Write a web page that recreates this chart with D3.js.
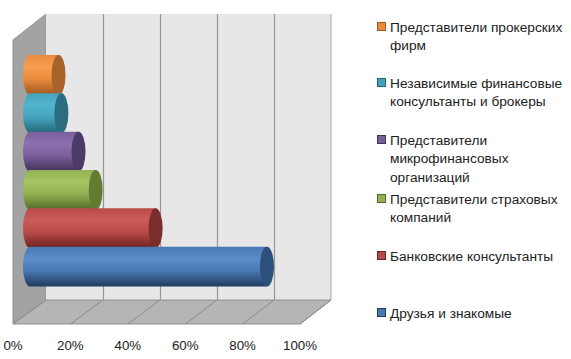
<!DOCTYPE html>
<html><head><meta charset="utf-8">
<script src="https://cdn.jsdelivr.net/npm/d3@7"></script>
<style>body{margin:0;background:#fff}svg{display:block}</style>
</head><body>
<svg id="c" width="571" height="359"></svg>
<script>
const categories = ["Друзья и знакомые","Банковские консультанты","Представители страховых компаний","Представители микрофинансовых организаций","Независимые финансовые консультанты и брокеры","Представители прокерских фирм"];
const values = [0.83, 0.44, 0.23, 0.17, 0.11, 0.10];
const tickValues = [0, 0.2, 0.4, 0.6, 0.8, 1.0];
const tickLabels = ["0%","20%","40%","60%","80%","100%"];
const legendLines = [["Представители прокерских","фирм"],["Независимые финансовые","консультанты и брокеры"],["Представители","микрофинансовых","организаций"],["Представители страховых","компаний"],["Банковские консультанты"],["Друзья и знакомые"]];
const colors = [
 {hi:"#5b8dc9",mid:"#4a78b2",lo:"#1f3b60",cap:"#2d4f7c"},
 {hi:"#cc5c59",mid:"#b84a47",lo:"#6a2220",cap:"#7b2d2b"},
 {hi:"#a6c562",mid:"#93b153",lo:"#536a28",cap:"#627c31"},
 {hi:"#8d70b0",mid:"#7a5f9b",lo:"#43305a",cap:"#4d3a69"},
 {hi:"#52b5cf",mid:"#45a2bb",lo:"#23667a",cap:"#2b6d80"},
 {hi:"#f89e50",mid:"#ea8b3e",lo:"#a0581c",cap:"#a9622a"}
];

const svg = d3.select("#c");
const xFront = d3.scaleLinear().domain([0,1]).range([13,300]);
const xBack = d3.scaleLinear().domain([0,1]).range([46,331]);
const xMid = d3.scaleLinear().domain([0,1]).range([30,315.5]);
const yBack = {top:14, bottom:300};
const yFront = {top:40, bottom:324};

const line = d3.line();
svg.append("path").attr("d", line([[xFront(0),yFront.top],[xBack(0),yBack.top],[xBack(0),yBack.bottom],[xFront(0),yFront.bottom]])+"Z")
  .attr("fill","#a3a3a3").attr("stroke","#8f8f8f").attr("stroke-width",1);
svg.append("path").attr("d", line([[xFront(0),yFront.bottom],[xBack(0),yBack.bottom],[xBack(1),yBack.bottom],[xFront(1),yFront.bottom]])+"Z")
  .attr("fill","#b5b5b5").attr("stroke","#8f8f8f").attr("stroke-width",1);
svg.append("rect").attr("x",xBack(0)).attr("y",yBack.top).attr("width",xBack(1)-xBack(0)).attr("height",yBack.bottom-yBack.top)
  .attr("fill","#e7e7e7");
svg.append("line").attr("x1",xBack(1)).attr("x2",xBack(1)).attr("y1",yBack.top).attr("y2",yBack.bottom).attr("stroke","#a6a6a6");

tickValues.forEach(t=>{
  if(t>0 && t<1) svg.append("line").attr("x1",xBack(t)+0.5).attr("x2",xBack(t)+0.5).attr("y1",yBack.top).attr("y2",yBack.bottom)
    .attr("stroke","#969696").attr("stroke-width",1.2);
  if(t>0) svg.append("line").attr("x1",xBack(t)).attr("y1",yBack.bottom).attr("x2",xFront(t)).attr("y2",yFront.bottom)
    .attr("stroke","#8c8c8c").attr("stroke-width",1);
});
svg.append("line").attr("x1",xBack(0)).attr("x2",xBack(1)).attr("y1",yBack.bottom).attr("y2",yBack.bottom).attr("stroke","#9a9a9a");
svg.append("line").attr("x1",xFront(0)).attr("y1",yFront.bottom).attr("x2",xBack(0)).attr("y2",yBack.bottom).attr("stroke","#8f8f8f");

svg.selectAll("text.tick").data(tickValues).enter().append("text").attr("class","tick")
  .attr("x",d=>xFront(d)).attr("y",350).attr("text-anchor","middle")
  .attr("font-family","Liberation Sans, Arial, sans-serif").attr("font-size",13.3).attr("fill","#222")
  .text((d,i)=>tickLabels[i]);

const order = categories.slice().reverse();
const y = d3.scaleBand().domain(order).range([55,285]).paddingInner(0);
const defs = svg.append("defs");
categories.forEach((c,i)=>{
  const g = defs.append("linearGradient").attr("id","g"+i).attr("x1",0).attr("y1",0).attr("x2",0).attr("y2",1);
  const col = colors[i];
  g.append("stop").attr("offset","0%").attr("stop-color",col.mid);
  g.append("stop").attr("offset","30%").attr("stop-color",col.hi);
  g.append("stop").attr("offset","60%").attr("stop-color",col.mid);
  g.append("stop").attr("offset","100%").attr("stop-color",col.lo);
});
const rx = 7;
order.map(c=>categories.indexOf(c)).forEach(i=>{
  const c = categories[i];
  const top = y(c), h = y.bandwidth()+1.5, ry = h/2, cy = top+ry;
  const x0 = xMid(0), x1 = xMid(values[i]);
  const d = `M${x1},${top} L${x0},${top} A${rx},${ry} 0 0 0 ${x0},${top+h} L${x1},${top+h} Z`;
  svg.append("path").attr("d",d).attr("fill",`url(#g${i})`);
  svg.append("ellipse").attr("cx",x1).attr("cy",cy).attr("rx",rx).attr("ry",ry).attr("fill",colors[i].cap);
});

const lg = svg.append("g");
const lineH = 18.5;
const startY = [27, 83, 140, 199, 256, 313];
order.map(c=>categories.indexOf(c)).forEach((ci,k)=>{
  const cy = startY[k];
  lg.append("rect").attr("x",377.5).attr("y",cy-4.5).attr("width",8).attr("height",8)
    .attr("fill",colors[ci].mid).attr("stroke",colors[ci].lo).attr("stroke-width",1);
  legendLines[k].forEach((t,j)=>{
    lg.append("text").attr("x",390).attr("y",cy+j*lineH+4.5)
      .attr("font-family","Liberation Sans, Arial, sans-serif").attr("font-size",13.7).attr("fill","#222").text(t);
  });
});
</script>
</body></html>
